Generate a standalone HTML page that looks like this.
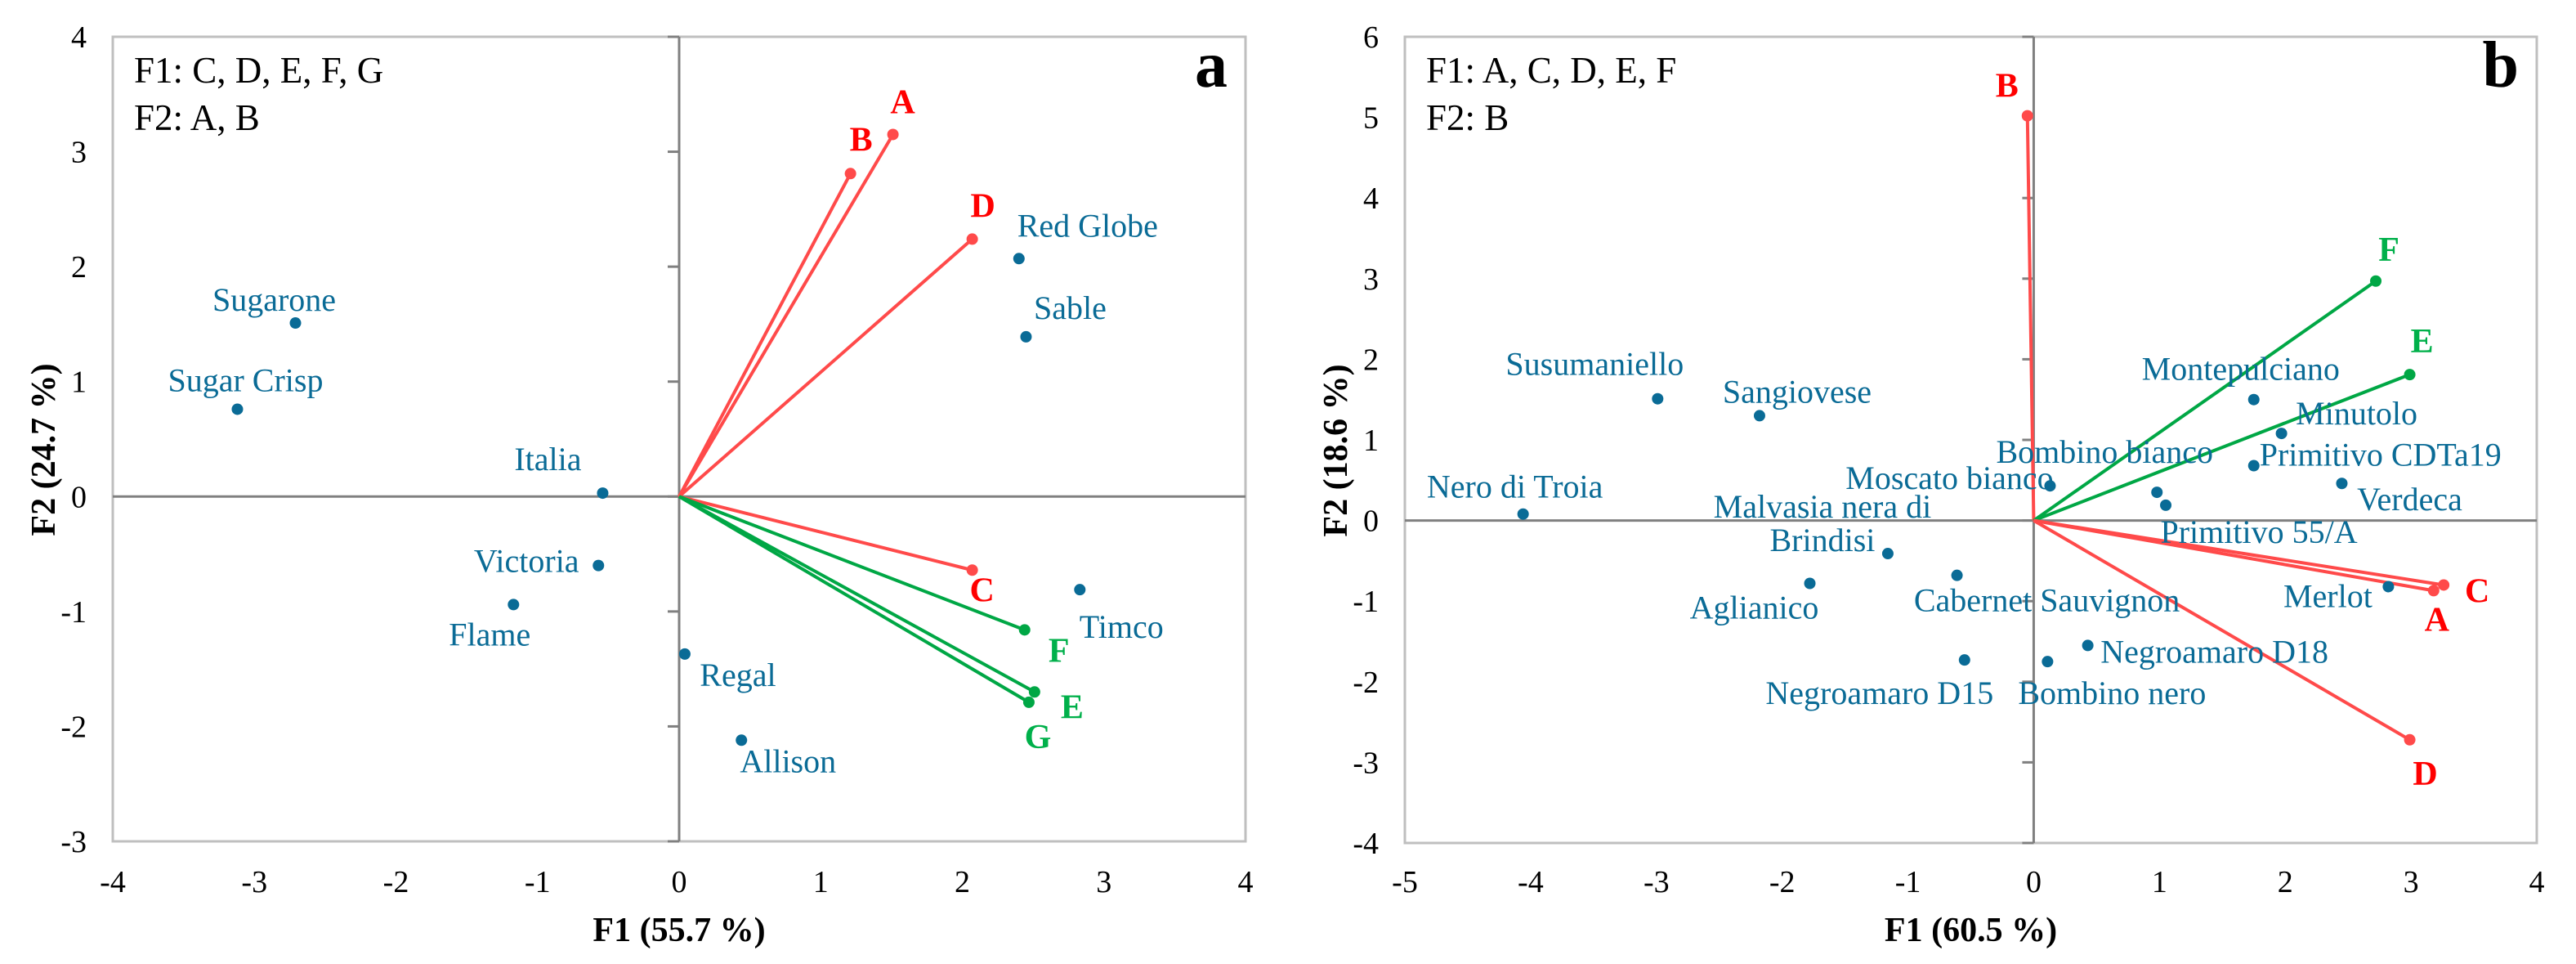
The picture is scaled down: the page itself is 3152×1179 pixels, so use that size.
<!DOCTYPE html>
<html><head><meta charset="utf-8">
<style>
html,body{margin:0;padding:0;background:#fff;}
svg{display:block;font-family:"Liberation Serif","Times New Roman",serif;}
svg text{font-family:"Liberation Serif","Times New Roman",serif;}
</style></head>
<body>
<svg id="chart" width="3152" height="1179" viewBox="0 0 3152 1179" xmlns="http://www.w3.org/2000/svg" font-family="Liberation Serif, serif"></svg>
<script>
// ---------- Panel a data ----------
const aNames = ["Sugarone","Sugar Crisp","Italia","Victoria","Flame","Regal","Allison","Red Globe","Sable","Timco"];
const aF1 = [-2.71,-3.12,-0.54,-0.57,-1.17,0.04,0.44,2.40,2.45,2.83];
const aF2 = [1.51,0.76,0.03,-0.60,-0.94,-1.37,-2.12,2.07,1.39,-0.81];
const aVecNames = ["A","B","D","C","F","E","G"];
const aVecF1 = [1.51,1.21,2.07,2.07,2.44,2.51,2.47];
const aVecF2 = [3.15,2.81,2.24,-0.64,-1.16,-1.70,-1.79];
const aVecGroup = ["r","r","r","r","g","g","g"];
const aXTicks = [-4,-3,-2,-1,0,1,2,3,4];
const aYTicks = [-3,-2,-1,0,1,2,3,4];
// label offsets (px) – styling only
const aLblOff = [[-26,-15],[10,-22],[-67,-28],[-88,8],[-29,50],[65,39],[57,39],[84,-27],[54,-22],[51,59]];
const aVecOff = [[12,-26],[13,-28],[13,-27],[12,38],[42,39],[46,32],[11,56]];

// ---------- Panel b data ----------
const bNames = ["Nero di Troia","Susumaniello","Sangiovese","Malvasia nera di|Brindisi","Aglianico","Cabernet Sauvignon","Moscato bianco","Bombino bianco","Primitivo 55/A","Montepulciano","Minutolo","Primitivo CDTa19","Verdeca","Merlot","Negroamaro D18","Bombino nero","Negroamaro D15"];
const bF1 = [-4.06,-2.99,-2.18,-1.16,-1.78,-0.61,0.13,0.98,1.05,1.75,1.97,1.75,2.45,2.82,0.43,0.11,-0.55];
const bF2 = [0.08,1.51,1.30,-0.41,-0.78,-0.68,0.43,0.35,0.19,1.50,1.08,0.68,0.46,-0.82,-1.55,-1.75,-1.73];
const bVecNames = ["B","F","E","C","A","D"];
const bVecF1 = [-0.05,2.72,2.99,3.26,3.18,2.99];
const bVecF2 = [5.02,2.97,1.81,-0.80,-0.87,-2.72];
const bVecGroup = ["r","g","g","r","r","r"];
const bXTicks = [-5,-4,-3,-2,-1,0,1,2,3,4];
const bYTicks = [-4,-3,-2,-1,0,1,2,3,4,5,6];
const bLblOff = [[-10,-20],[-77,-29],[46,-16],[-80,-44],[-68,43],[110,44],[-123,4],[-64,-36],[114,46],[-16,-24],[92,-11],[155,0],[83,33],[-74,25],[155,21],[79,52],[-104,54]];
const bVecOff = [[-25,-23],[16,-25],[15,-27],[41,21],[4,49],[19,55]];

const NS = "http://www.w3.org/2000/svg";
const svg = document.getElementById("chart");
const FF = '"Liberation Serif", "Times New Roman", serif';
function mk(tag, attrs, parent, text){
  const e = document.createElementNS(NS, tag);
  for (const k in attrs) e.setAttribute(k, attrs[k]);
  if (tag === "text") e.style.fontFamily = FF;
  if (text !== undefined) e.textContent = text;
  (parent||svg).appendChild(e);
  return e;
}
const BLUE="#0a6b96", RED_L="#ff4a4a", RED_T="#ff0000", GRN_L="#00a745", GRN_T="#00b04a";

function panel(p){
  const g = mk("g", {});
  
  
  const sx = v => p.x0 + (v - p.xmin)/(p.xmax-p.xmin)*(p.x1-p.x0);
  const sy = v => p.y1 - (v - p.ymin)/(p.ymax-p.ymin)*(p.y1-p.y0);
  const frame = mk("rect", {x:p.x0,y:p.y0,width:p.x1-p.x0,height:p.y1-p.y0,fill:"none",stroke:"#bfbfbf","stroke-width":3}, g);
  
  
  const zx = sx(0), zy = sy(0);
  const vax = mk("line",{x1:zx,y1:p.y0,x2:zx,y2:p.y1,stroke:"#808080","stroke-width":3},g);
  
  
  const hax = mk("line",{x1:p.x0,y1:zy,x2:p.x1,y2:zy,stroke:"#808080","stroke-width":3},g);
  
  
  p.yTicks.forEach(t=>{
    const tm = mk("line",{x1:zx-14,y1:sy(t),x2:zx,y2:sy(t),stroke:"#808080","stroke-width":3},g);
    
    
    const tl = mk("text",{x:p.x0-32,y:sy(t)+13,"text-anchor":"end","font-size":38,fill:"#000"},g,String(t));
    
    
  });
  p.xTicks.forEach(t=>{
    const tl = mk("text",{x:sx(t),y:1091,"text-anchor":"middle","font-size":38,fill:"#000"},g,String(t));
    
    
  });
  const xt = mk("text",{x:(p.x0+p.x1)/2,y:1151,"text-anchor":"middle","font-size":42,"font-weight":"bold"},g,p.xTitle);
  
  
  const yc=(p.y0+p.y1)/2, yx=p.x0-71;
  const yt = mk("text",{x:yx,y:yc+13,"text-anchor":"middle","font-size":42,"font-weight":"bold",transform:`rotate(-90 ${yx} ${yc+13})`},g,p.yTitle);
  
  
  const i1 = mk("text",{x:p.x0+26,y:101,"font-size":45},g,p.info1);
  
  
  const i2 = mk("text",{x:p.x0+26,y:159,"font-size":45},g,p.info2);
  
  
  const pl = mk("text",{x:p.x1-22,y:106,"text-anchor":"end","font-size":80,"font-weight":"bold"},g,p.letter);
  
  
  p.vn.forEach((n,i)=>{
    const col = p.vg[i]==="r"?RED_L:GRN_L, tcol = p.vg[i]==="r"?RED_T:GRN_T;
    const X=sx(p.v1[i]), Y=sy(p.v2[i]);
    const ln = mk("line",{x1:zx,y1:zy,x2:X,y2:Y,stroke:col,"stroke-width":4},g);
    
    
    const c = mk("circle",{cx:X,cy:Y,r:7,fill:col},g);
    
    
    const t = mk("text",{x:X+p.vo[i][0],y:Y+p.vo[i][1],"text-anchor":"middle","font-size":42,"font-weight":"bold",fill:tcol},g,n);
    
    
  });
  p.names.forEach((n,i)=>{
    const X=sx(p.f1[i]), Y=sy(p.f2[i]);
    const c = mk("circle",{cx:X,cy:Y,r:7,fill:BLUE},g);
    
    
    n.split("|").forEach((s,k)=>{
      const t = mk("text",{x:X+p.lo[i][0],y:Y+p.lo[i][1]+k*41,"text-anchor":"middle","font-size":40,fill:BLUE},g,s);
      
      
    });
  });
}
panel({id:"a",x0:138,x1:1524,y0:45,y1:1029,xmin:-4,xmax:4,ymin:-3,ymax:4,
  xTicks:aXTicks,yTicks:aYTicks,xTitle:"F1 (55.7 %)",yTitle:"F2 (24.7 %)",
  info1:"F1: C, D, E, F, G",info2:"F2: A, B",letter:"a",
  names:aNames,f1:aF1,f2:aF2,lo:aLblOff,vn:aVecNames,v1:aVecF1,v2:aVecF2,vg:aVecGroup,vo:aVecOff});
panel({id:"b",x0:1719,x1:3104,y0:45,y1:1031,xmin:-5,xmax:4,ymin:-4,ymax:6,
  xTicks:bXTicks,yTicks:bYTicks,xTitle:"F1 (60.5 %)",yTitle:"F2 (18.6 %)",
  info1:"F1: A, C, D, E, F",info2:"F2: B",letter:"b",
  names:bNames,f1:bF1,f2:bF2,lo:bLblOff,vn:bVecNames,v1:bVecF1,v2:bVecF2,vg:bVecGroup,vo:bVecOff});
</script>
</body></html>
